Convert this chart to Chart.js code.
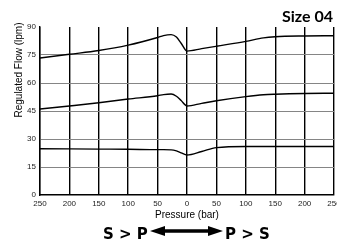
<!DOCTYPE html>
<html>
    <head>
        <title>Size 04</title>
        <script src="https://cdn.jsdelivr.net/npm/chart.js@4/dist/chart.umd.min.js"></script>
        <style>
            body { margin: 0; background: #fff; }
        </style>
    </head>
    <body>
        <canvas id="chart" width="337" height="251"></canvas>

        <script>
            // pressure (bar), negative side = S > P, positive side = P > S
            const pressure = [-250, -200, -150, -100, -50, -40, -27, -18, -10, 0, 25, 50, 100, 130, 150, 200, 250]
            const flowHigh = [73.4, 75.4, 77.4, 80.3, 84.4, 85.4, 85.9, 84.6, 81.3, 77.1, 78.4, 79.7, 82.3, 84.2, 84.8, 85.2, 85.3]
            const flowMid = [46.1, 47.7, 49.4, 51.4, 53.2, 53.8, 54.1, 52.9, 50.6, 47.7, 49.1, 50.5, 52.7, 53.7, 54.0, 54.4, 54.5]
            const flowLow = [24.8, 24.7, 24.6, 24.5, 24.3, 24.3, 24.2, 23.6, 22.6, 21.4, 23.3, 25.4, 26.0, 26.0, 26.0, 26.0, 26.0]
            const yTicks = [0, 15, 30, 45, 60, 75, 90]

            const toPoints = vals => vals.map((v, i) => ({ x: pressure[i], y: v }))
            const line = vals => ({
                data: toPoints(vals),
                borderColor: '#000',
                borderWidth: 1.4,
                pointRadius: 0,
                cubicInterpolationMode: 'monotone',
                fill: false,
            })

            const textPlugin = {
                id: 'texts',
                afterDraw(chart) {
                    const ctx = chart.ctx
                    ctx.save()
                    ctx.fillStyle = '#000'

                    // heading
                    ctx.font = 'bold 16px Lato'
                    ctx.textAlign = 'right'
                    ctx.textBaseline = 'alphabetic'
                    ctx.fillText('Size 04', 333, 22)

                    // axis titles
                    ctx.font = '10px "Liberation Sans"'
                    ctx.textAlign = 'center'
                    ctx.fillText('Pressure (bar)', 187, 218)
                    ctx.save()
                    ctx.translate(22, 70)
                    ctx.rotate(-Math.PI / 2)
                    ctx.fillText('Regulated Flow (lpm)', 0, 0)
                    ctx.restore()

                    // direction labels
                    ctx.font = 'bold 15px "DejaVu Sans"'
                    ctx.textAlign = 'left'
                    ctx.fillText('S > P', 103, 239)
                    ctx.fillText('P > S', 225, 239)

                    // double arrow
                    const x0 = 150, x1 = 223, y = 231, head = 15, hh = 5, sh = 1.8
                    ctx.beginPath()
                    ctx.moveTo(x0, y)
                    ctx.lineTo(x0 + head, y - hh)
                    ctx.lineTo(x0 + head, y - sh)
                    ctx.lineTo(x1 - head, y - sh)
                    ctx.lineTo(x1 - head, y - hh)
                    ctx.lineTo(x1, y)
                    ctx.lineTo(x1 - head, y + hh)
                    ctx.lineTo(x1 - head, y + sh)
                    ctx.lineTo(x0 + head, y + sh)
                    ctx.lineTo(x0 + head, y + hh)
                    ctx.closePath()
                    ctx.fill()
                    ctx.restore()
                },
            }

            const chart = new Chart('chart', {
                type: 'line',
                data: {
                    datasets: [line(flowHigh), line(flowMid), line(flowLow)],
                },
                plugins: [textPlugin],
                options: {
                    responsive: false,
                    animation: false,
                    layout: { padding: { top: 27, right: 3, left: 0, bottom: 0 } },
                    plugins: {
                        legend: { display: false },
                        tooltip: { enabled: false },
                    },
                    scales: {
                        x: {
                            type: 'linear',
                            min: -250,
                            max: 250,
                            afterFit(s) {
                                s.paddingLeft = 0
                                s.paddingRight = 0
                                s.height = 56
                            },
                            ticks: {
                                stepSize: 50,
                                padding: 4,
                                maxRotation: 0,
                                autoSkip: false,
                                color: '#222',
                                font: { family: 'Liberation Sans', size: 8 },
                                callback: v => Math.abs(v),
                            },
                            grid: { color: '#000', lineWidth: 1.4, drawTicks: false },
                            border: { color: '#000', width: 1.4 },
                        },
                        y: {
                            min: 0,
                            max: 90,
                            afterFit(s) {
                                s.width = 40
                            },
                            afterBuildTicks(s) {
                                s.ticks = yTicks.map(v => ({ value: v }))
                            },
                            ticks: {
                                padding: 4,
                                color: '#222',
                                font: { family: 'Liberation Sans', size: 8 },
                            },
                            grid: {
                                drawTicks: false,
                                lineWidth: 1,
                                color: c => (c.tick && (c.tick.value === 0 || c.tick.value === 90) ? 'rgba(0,0,0,0)' : '#858585'),
                            },
                            border: { color: '#000', width: 1.4 },
                        },
                    },
                },
            })
        </script>
    </body>
</html>
